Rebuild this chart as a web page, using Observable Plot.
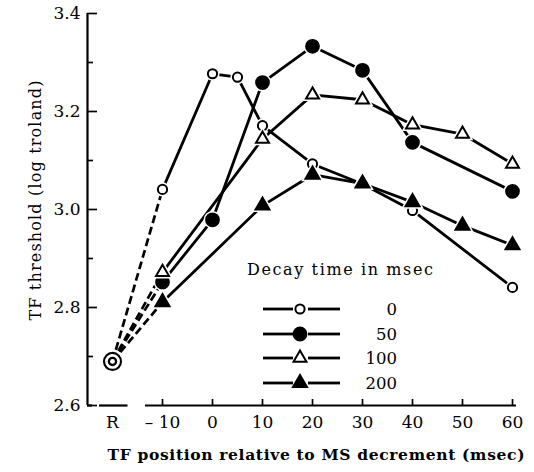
<!DOCTYPE html>
<html>
<head>
<meta charset="utf-8">
<script src="https://cdn.jsdelivr.net/npm/d3@7"></script>
<script src="https://cdn.jsdelivr.net/npm/@observablehq/plot@0.6"></script>
<style>
  html, body { margin: 0; padding: 0; background: #fff; }
  #wrap { position: relative; width: 534px; height: 472px; }
  #wrap svg { position: absolute; left: 0; top: 0; overflow: visible; }
</style>
</head>
<body>
<div id="wrap"></div>
<script>
// ---- data ----
const seriesNames = ["0", "50", "100", "200"];
const x0 = [-10, 0, 5, 10, 20, 30, 40, 60];
const y0 = [3.041, 3.277, 3.270, 3.171, 3.093, 3.052, 2.998, 2.841];
const x50 = [-10, 0, 10, 20, 30, 40, 60];
const y50 = [2.852, 2.979, 3.259, 3.333, 3.284, 3.137, 3.037];
const x100 = [-10, 10, 20, 30, 40, 50, 60];
const y100 = [2.872, 3.144, 3.234, 3.224, 3.173, 3.154, 3.093];
const x200 = [-10, 10, 20, 30, 40, 50, 60];
const y200 = [2.811, 3.008, 3.071, 3.053, 3.015, 2.967, 2.927];
const refX = -20, refY = 2.69;           // "R" reference point
const xTicks = [-20, -10, 0, 10, 20, 30, 40, 50, 60];
const xTickLabels = ["R", "\u2013 10", "0", "10", "20", "30", "40", "50", "60"];
const xTickMarks = [-10, 0, 10, 20, 30, 40, 50, 60];
const yMajor = [2.6, 2.8, 3.0, 3.2, 3.4];
const yMinor = [2.7, 2.9, 3.1, 3.3];
const xDomain = [-25, 61];
const yDomain = [2.6, 3.4];
const xAxisSegments = [[-25, -24], [-22.6, -16.9], [-13.4, 60.8]];
const xTitle = "TF position relative to MS decrement (msec)";
const yTitle = "TF threshold (log troland)";
const legendTitle = "Decay time in msec";

// ---- pick an installed serif font ----
function pickFont(cands) {
  const ctx = document.createElement("canvas").getContext("2d");
  const s = "TF position relative 0123456789 (msec) Wmwil";
  for (const c of cands) {
    let ok = true;
    for (const b of ["monospace", "sans-serif", "cursive"]) {
      ctx.font = `40px ${b}`; const wb = ctx.measureText(s).width;
      ctx.font = `40px "${c}", ${b}`; const w = ctx.measureText(s).width;
      if (Math.abs(w - wb) < 0.01) { ok = false; break; }
    }
    if (ok) return `"${c}", serif`;
  }
  return "serif";
}
const font = pickFont(["Liberation Serif", "Times New Roman", "Tinos", "DejaVu Serif", "Noto Serif", "FreeSerif", "Nimbus Roman", "Times"]);

// ---- build table ----
const xs = [x0, x50, x100, x200], ys = [y0, y50, y100, y200];
const rows = [];
seriesNames.forEach((s, i) => xs[i].forEach((x, j) => rows.push({series: s, x, y: ys[i][j]})));
const firsts = seriesNames.map((s, i) => ({series: s, x1: refX, y1: refY, x2: xs[i][0], y2: ys[i][0]}));
const style = {
  "0":   {symbol: "circle",   fill: "white", r: 4.6},
  "50":  {symbol: "circle",   fill: "black", r: 6.4},
  "100": {symbol: "triangle", fill: "white", r: 4.8},
  "200": {symbol: "triangle", fill: "black", r: 5.2}
};

const W = 534, H = 472, mL = 87, mR = 17, mT = 13, mB = 67;
const frameW = W - mL - mR, frameH = H - mT - mB;

const markers = seriesNames.flatMap(s => {
  const d = rows.filter(r => r.series === s);
  const st = style[s];
  return [
    Plot.dot(d, {x: "x", y: "y", symbol: () => st.symbol, r: st.r, fill: "white", stroke: "white", strokeWidth: 5}),
    Plot.dot(d, {x: "x", y: "y", symbol: () => st.symbol, r: st.r, fill: st.fill, stroke: "black", strokeWidth: 2})
  ];
});

const chart = Plot.plot({
  width: W, height: H,
  marginLeft: mL, marginRight: mR, marginTop: mT, marginBottom: mB,
  style: {fontFamily: font, background: "white", overflow: "visible", color: "black"},
  x: {domain: xDomain, axis: null},
  y: {domain: yDomain, axis: null},
  symbol: {type: "identity"},
  marks: [
    Plot.ruleX([xDomain[0]], {y1: yDomain[0], y2: yDomain[1], stroke: "black", strokeWidth: 2.2}),
    Plot.ruleY(xAxisSegments, {y: () => yDomain[0], x1: d => d[0], x2: d => d[1], stroke: "black", strokeWidth: 2.2}),
    Plot.tickY(yMajor, {y: d => d, insetRight: frameW - 10, stroke: "black", strokeWidth: 1.7}),
    Plot.tickY(yMinor, {y: d => d, insetRight: frameW - 6, stroke: "black", strokeWidth: 1.7}),
    Plot.tickX(xTickMarks, {x: d => d, insetTop: frameH - 6, stroke: "black", strokeWidth: 1.7}),
    Plot.axisY(yMajor, {anchor: "left", tickSize: 0, tickPadding: 7, tickFormat: d => d.toFixed(1), fontSize: 17, fill: "black", label: null}),
    Plot.axisX(xTicks, {anchor: "bottom", tickSize: 0, tickPadding: 10, tickFormat: (d, i) => xTickLabels[i], fontSize: 17, fill: "black", label: null}),
    Plot.link(firsts, {x1: "x1", y1: "y1", x2: "x2", y2: "y2", stroke: "black", strokeWidth: 2.7, strokeDasharray: "8,4"}),
    Plot.line(rows, {x: "x", y: "y", z: "series", stroke: "black", strokeWidth: 2.8}),
    ...markers,
    Plot.dot([refY], {x: () => refX, y: d => d, r: 8.5, fill: "white", stroke: "black", strokeWidth: 2.1}),
    Plot.dot([refY], {x: () => refX, y: d => d, r: 3.6, fill: "white", stroke: "black", strokeWidth: 2.3}),
    Plot.text([xTitle], {frameAnchor: "bottom", textAnchor: "middle", dx: 13.5, dy: 50, fontSize: 15.5, fontWeight: "bold", fill: "black", text: d => d, lineAnchor: "middle"}),
    Plot.text([yTitle], {frameAnchor: "left", textAnchor: "middle", dx: -52, dy: -9, rotate: -90, fontSize: 16, fill: "black", text: d => d, lineAnchor: "middle"})
  ]
});

const wrap = document.getElementById("wrap");
wrap.appendChild(chart);
const fitText = (sel, txt, len) => sel.selectAll("text").filter(function() { return this.textContent === txt; })
  .attr("textLength", len).attr("lengthAdjust", "spacing");
fitText(d3.select(chart), xTitle, 417);
fitText(d3.select(chart), yTitle, 240);

// ---- legend overlay ----
const leg = d3.select(wrap).append("svg").attr("width", W).attr("height", H)
  .style("font-family", font).style("pointer-events", "none");
leg.append("text").attr("x", 247).attr("y", 275).attr("font-size", 16)
  .attr("textLength", 186).attr("lengthAdjust", "spacing").text(legendTitle);
const rowY = [309, 334, 358, 383];
seriesNames.forEach((s, i) => {
  const y = rowY[i], st = style[s];
  leg.append("line").attr("x1", 263).attr("x2", 293).attr("y1", y).attr("y2", y).attr("stroke", "black").attr("stroke-width", 2.8);
  leg.append("line").attr("x1", 308).attr("x2", 340).attr("y1", y).attr("y2", y).attr("stroke", "black").attr("stroke-width", 2.8);
  const sym = d3.symbol(st.symbol === "circle" ? d3.symbolCircle : d3.symbolTriangle, Math.PI * st.r * st.r);
  leg.append("path").attr("d", sym()).attr("transform", `translate(300,${y})`)
    .attr("fill", st.fill).attr("stroke", "black").attr("stroke-width", 2);
  leg.append("text").attr("x", 397).attr("y", y).attr("dy", "0.35em").attr("text-anchor", "end")
    .attr("font-size", 16.5).text(s);
});
</script>
</body>
</html>
